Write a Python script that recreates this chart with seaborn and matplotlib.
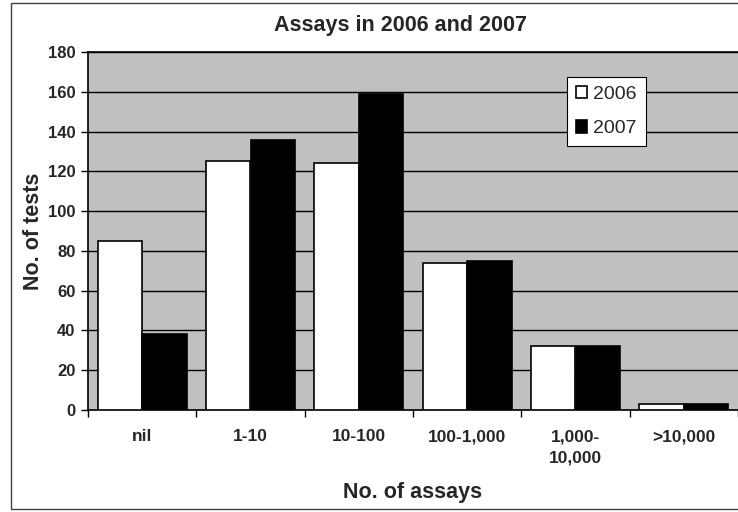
import pandas as pd
import matplotlib.pyplot as plt
import seaborn as sns
from matplotlib.patches import Rectangle

# datos
categorias = ["nil", "1-10", "10-100", "100-1,000", "1,000-\n10,000", ">10,000"]
tests_2006 = [85, 125, 124, 74, 32, 3]
tests_2007 = [38, 136, 159, 75, 32, 3]
anios = ["2006", "2007"]

df = pd.DataFrame({
    "categoria": categorias * 2,
    "tests": tests_2006 + tests_2007,
    "anio": [anios[0]] * len(categorias) + [anios[1]] * len(categorias),
})

sns.set_style("white")
plt.rcParams["font.family"] = ["Liberation Sans", "DejaVu Sans"]

fig = plt.figure(figsize=(7.38, 5.12), dpi=100)
ax = fig.add_axes([88 / 738, 1 - 410 / 512, 1 - 88 / 738, (410 - 52) / 512])
ax.set_facecolor("#c0c0c0")

sns.barplot(
    data=df, x="categoria", y="tests", hue="anio",
    palette=["white", "black"], edgecolor="black", linewidth=1.2,
    width=0.82, ax=ax, zorder=3,
)

ax.set_ylim(0, 180)
ax.set_xlim(-0.5, 5.5)
ax.set_yticks(range(0, 181, 20))
ax.yaxis.grid(True, color="black", linewidth=1, zorder=0)
ax.set_axisbelow(True)

for s in ["left", "bottom", "top"]:
    ax.spines[s].set_visible(True)
    ax.spines[s].set_color("black")
    ax.spines[s].set_linewidth(1.2)
ax.spines["right"].set_visible(False)

ax.tick_params(axis="y", direction="out", length=5, width=1, color="black",
               left=True, labelsize=12, pad=4)
ax.set_xticks([i + 0.5 for i in range(-1, 6)], minor=True)
ax.tick_params(axis="x", which="minor", direction="out", length=5, width=1,
               color="black", bottom=True)
ax.tick_params(axis="x", which="major", length=0, labelsize=12.5, pad=14)
for lbl in ax.get_xticklabels() + ax.get_yticklabels():
    lbl.set_fontweight("bold")
for lbl in ax.get_xticklabels():
    lbl.set_verticalalignment("top")
    lbl.set_linespacing(1.5)

ax.set_xlabel("No. of assays", fontsize=15.5, fontweight="bold", labelpad=12)
ax.set_ylabel("No. of tests", fontsize=15.5, fontweight="bold", labelpad=3)

leg = ax.legend(
    loc="upper left", bbox_to_anchor=((567 - 88) / 650, (410 - 77) / 358),
    fontsize=14, frameon=True, fancybox=False, edgecolor="black",
    framealpha=1, handlelength=0.6, handleheight=0.6, handletextpad=0.3,
    borderpad=0.45, labelspacing=0.9, borderaxespad=0,
)
leg.get_frame().set_linewidth(0.8)

fig.text(401 / 738, 1 - 26 / 512, "Assays in 2006 and 2007", ha="center",
         va="center", fontsize=15.5, fontweight="bold")

# borde exterior del grafico
fig.patches.append(Rectangle((11 / 738, 3 / 512), 1.1, 1 - 6 / 512,
                             transform=fig.transFigure, fill=False,
                             edgecolor="#404040", linewidth=1))

fig.savefig("out.png", dpi=100)
